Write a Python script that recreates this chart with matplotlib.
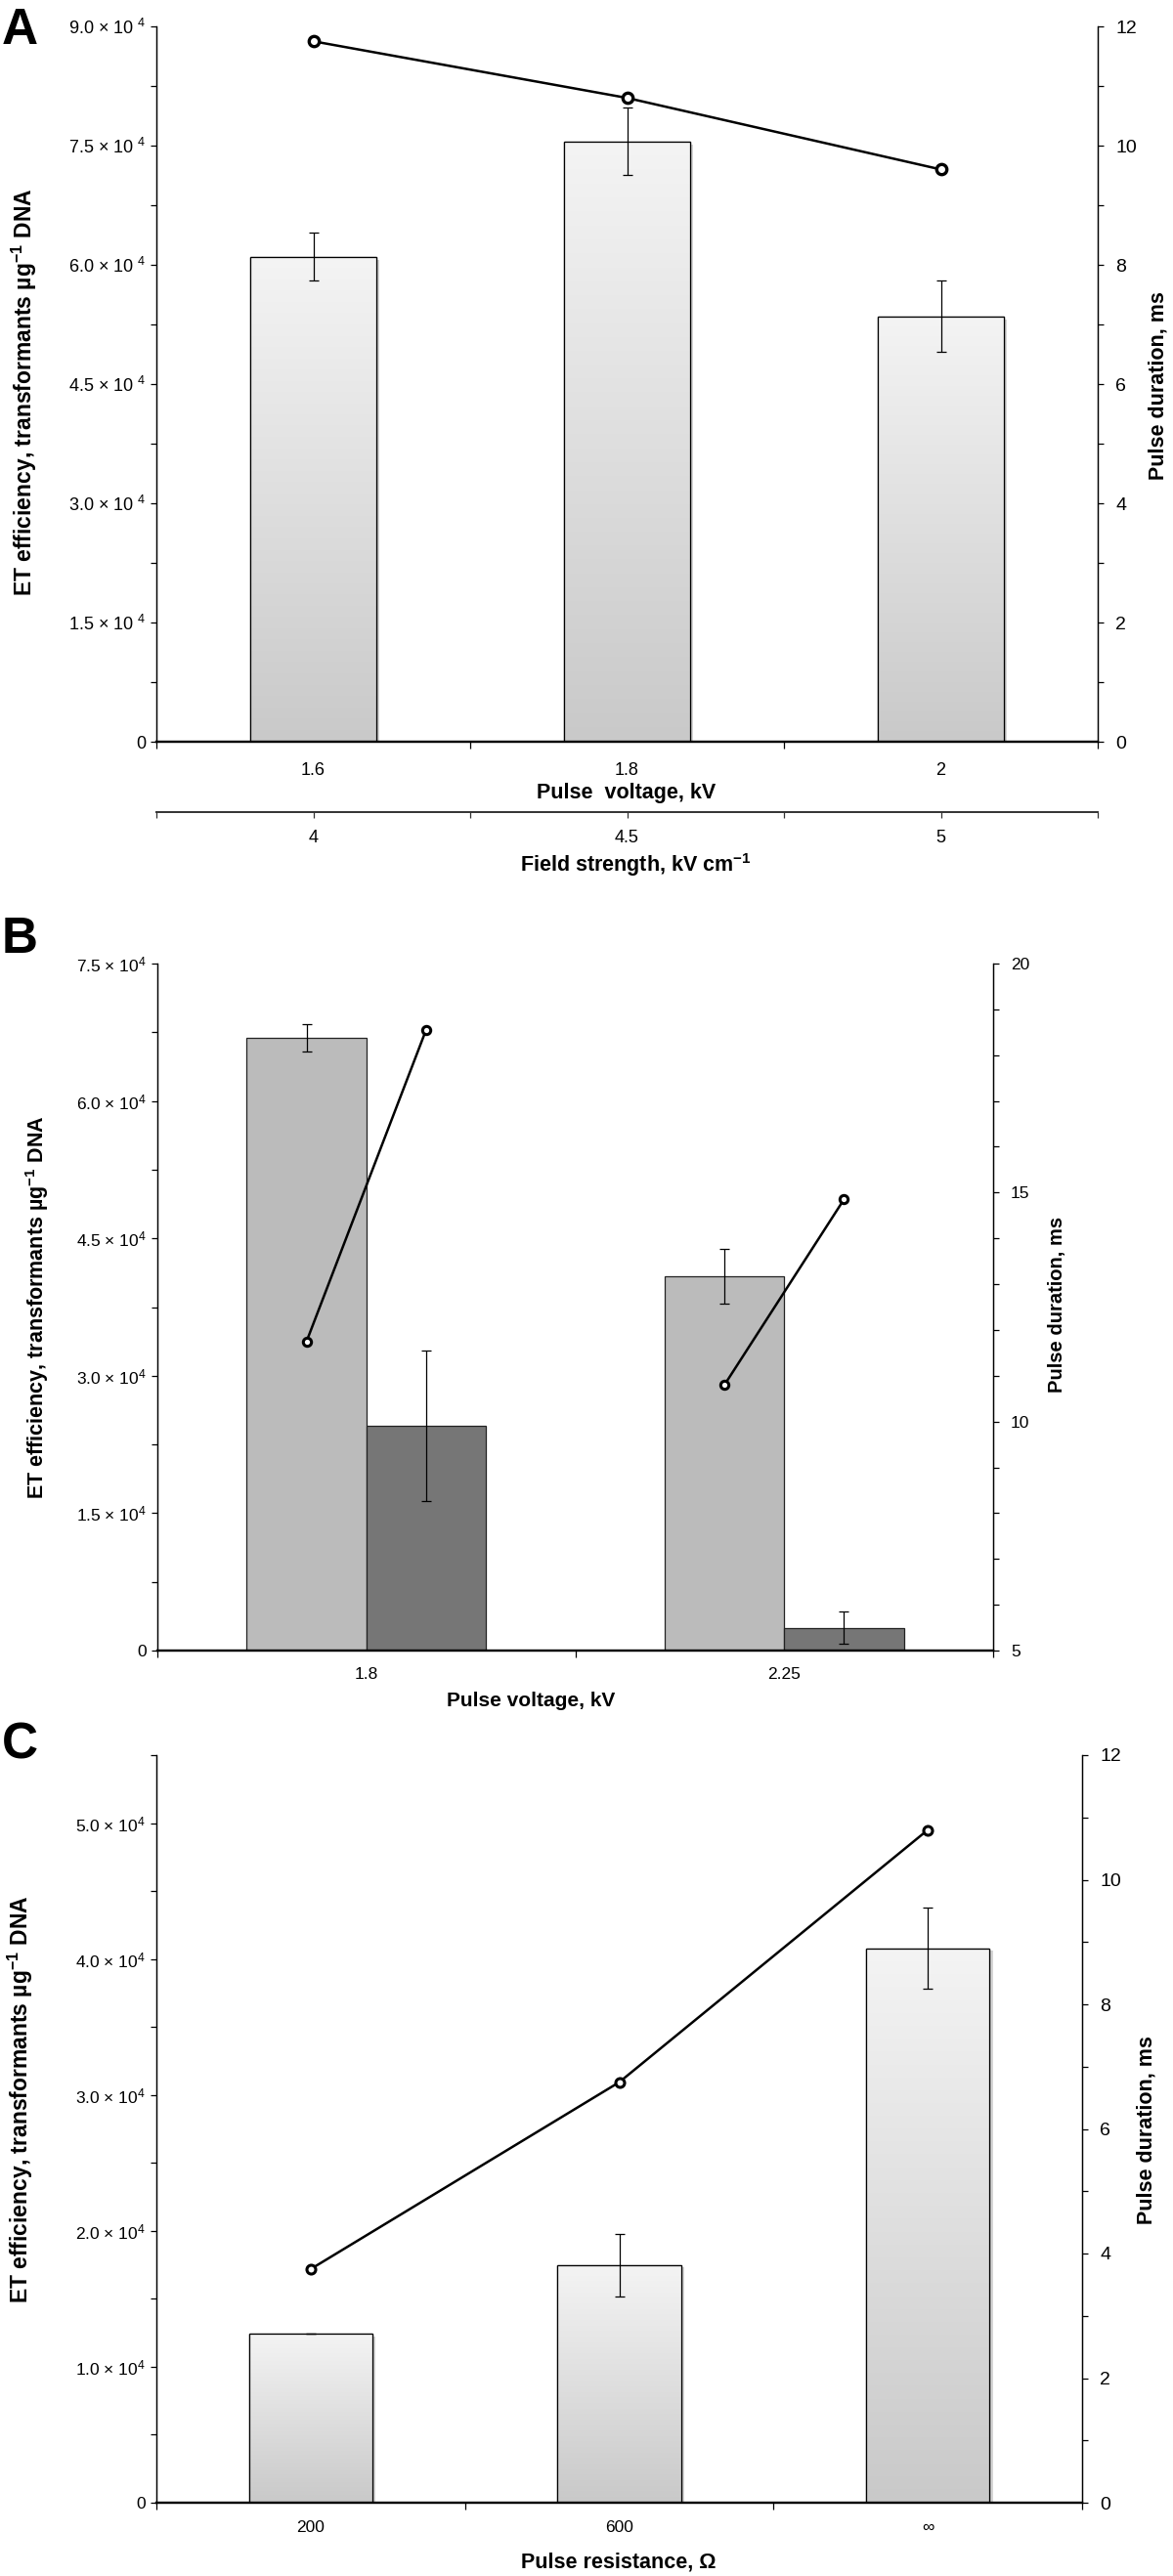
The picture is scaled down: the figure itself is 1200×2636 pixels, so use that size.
import numpy as np
import matplotlib
matplotlib.use("Agg")
import matplotlib.pyplot as plt
import matplotlib.patheffects as pe
from matplotlib.colors import LinearSegmentedColormap
from matplotlib.ticker import MultipleLocator

plt.rcParams['font.family'] = ['Liberation Sans', 'DejaVu Sans']
plt.rcParams['mathtext.default'] = 'regular'

# Panel A: pulse voltage series
a_voltage = ['1.6', '1.8', '2']
a_field = ['4', '4.5', '5']
a_eff = [61000, 75500, 53500]
a_err = [3000, 4250, 4500]
a_dur = [11.75, 10.8, 9.6]

# Panel B: two conditions per voltage
b_voltage = ['1.8', '2.25']
b_eff_1 = [66900, 40900]
b_err_1 = [1450, 3000]
b_eff_2 = [24500, 2500]
b_err_2 = [8200, 1750]
b_dur_1 = [11.75, 10.8]
b_dur_2 = [18.55, 14.85]

# Panel C: pulse resistance series
c_res = ['200', '600', '∞']
c_eff = [12450, 17500, 40800]
c_err = [0, 2300, 2950]
c_dur = [3.75, 6.75, 10.8]

W, H = 1200, 2636
fig = plt.figure(figsize=(W / 100, H / 100), dpi=100)


def px_axes(l, r, t, b):
    return fig.add_axes([l / W, 1 - b / H, (r - l) / W, (b - t) / H])


def ftext(x, y, s, **kw):
    fig.text(x / W, 1 - y / H, s, ha='center', va='center', **kw)


grad_cmap = LinearSegmentedColormap.from_list('g', ['#c9c9c9', '#f4f4f4'])
grad = np.linspace(0, 1, 256).reshape(-1, 1)


def gradient_bars(ax, x, h, width):
    bars = ax.bar(x, h, width, color='#dddddd', edgecolor='black', linewidth=0.9, zorder=2,
                  path_effects=[pe.SimplePatchShadow(offset=(2.5, -2), shadow_rgbFace='#888888', alpha=0.35),
                                pe.Normal()])
    for bar in bars:
        x0, y0 = bar.get_x(), bar.get_y()
        im = ax.imshow(grad, extent=(x0, x0 + bar.get_width(), y0, y0 + bar.get_height()),
                       origin='lower', cmap=grad_cmap, vmin=0, vmax=1, aspect='auto', zorder=2.1)
        im.set_clip_path(bar)
    ax.bar(x, h, width, facecolor='none', edgecolor='black', linewidth=0.9, zorder=2.2)


def setup(ax, ax2, n, ylim, ylim2, yticks, ylabels, yminor, y2major, y2minor, lsize, rsize, xpad):
    ax.set_xlim(-0.5, n - 0.5)
    ax.set_ylim(*ylim)
    ax2.set_ylim(*ylim2)
    for a in (ax, ax2):
        a.spines['top'].set_visible(False)
        a.spines['left'].set_linewidth(0.9)
        a.spines['right'].set_linewidth(0.9)
        a.spines['bottom'].set_linewidth(1.6)
    ax.set_yticks(yticks)
    ax.set_yticklabels(ylabels)
    ax.yaxis.set_minor_locator(MultipleLocator(yminor))
    ax2.yaxis.set_major_locator(MultipleLocator(y2major))
    ax2.yaxis.set_minor_locator(MultipleLocator(y2minor))
    ax.tick_params(axis='y', which='both', direction='out', length=4, width=0.9, labelsize=lsize, pad=4)
    ax2.tick_params(axis='y', which='both', direction='out', length=4, width=0.9, labelsize=rsize, pad=9)
    ax.set_xticks(np.arange(n + 1) - 0.5)
    ax.set_xticklabels([])
    ax.tick_params(axis='x', which='major', direction='out', length=5, width=0.9)
    ax.set_xticks(np.arange(n), minor=True)
    ax.tick_params(axis='x', which='minor', length=0, labelsize=lsize, pad=xpad)


# ---------------- Panel A ----------------
ax = px_axes(160, 1123, 27, 759)
ax2 = ax.twinx()
xa = np.arange(len(a_eff))
gradient_bars(ax, xa, a_eff, 0.4)
ax.errorbar(xa, a_eff, yerr=a_err, fmt='none', ecolor='black', elinewidth=0.9,
            capsize=3.5, capthick=0.9, zorder=3)
ax2.plot(xa, a_dur, color='black', lw=1.8, marker='o', ms=7.5, mfc='white', mec='black', mew=2.4, zorder=4)
a_ticks = np.arange(0, 90001, 15000)
a_lab = ['0'] + ['%.1f × 10 $^{4}$' % (v / 1e4) for v in a_ticks[1:]]
setup(ax, ax2, 3, (0, 90000), (0, 12), a_ticks, a_lab, 7500, 2, 1, 13, 14, 15)
ax.set_xticklabels(a_voltage, minor=True)

sec = ax.secondary_xaxis(-0.098)
sec.set_xticks(np.arange(-0.5, 2.51, 0.5))
sec.set_xticklabels(['', a_field[0], '', a_field[1], '', a_field[2], ''])
sec.spines['bottom'].set_linewidth(1.4)
sec.spines['bottom'].set_color('#333333')
sec.tick_params(direction='out', length=4, width=0.9, labelsize=13, pad=9, color='#333333')

ftext(641, 812, 'Pulse  voltage, kV', fontsize=15.5, fontweight='bold')
ftext(650, 885, 'Field strength, kV cm$^{-1}$', fontsize=15.5, fontweight='bold')
ftext(25, 401, 'ET efficiency, transformants µg$^{-1}$ DNA', fontsize=16.5, fontweight='bold', rotation=90)
ftext(1185, 395, 'Pulse duration, ms', fontsize=15.5, fontweight='bold', rotation=90)
fig.text(2 / W, 1 - 45 / H, 'A', fontsize=37, fontweight='bold', ha='left', va='baseline')

# ---------------- Panel B ----------------
ax = px_axes(161, 1016, 986, 1689)
ax2 = ax.twinx()
xb = np.arange(len(b_eff_1))
bw = 0.286
ax.bar(xb - bw / 2, b_eff_1, bw, color='#bbbbbb', edgecolor='#222222', linewidth=0.9, zorder=2)
ax.bar(xb + bw / 2, b_eff_2, bw, color='#767676', edgecolor='#222222', linewidth=0.9, zorder=2)
ax.errorbar(xb - bw / 2, b_eff_1, yerr=b_err_1, fmt='none', ecolor='black', elinewidth=0.9,
            capsize=3.5, capthick=0.9, zorder=3)
ax.errorbar(xb + bw / 2, b_eff_2, yerr=b_err_2, fmt='none', ecolor='black', elinewidth=0.9,
            capsize=3.5, capthick=0.9, zorder=3)
for i in range(len(xb)):
    ax2.plot([xb[i] - bw / 2, xb[i] + bw / 2], [b_dur_1[i], b_dur_2[i]], color='black', lw=1.8,
             marker='o', ms=6, mfc='white', mec='black', mew=2.2, zorder=4)
b_ticks = np.arange(0, 75001, 15000)
b_lab = ['0'] + ['%.1f × 10$^{4}$' % (v / 1e4) for v in b_ticks[1:]]
setup(ax, ax2, 2, (0, 75000), (5, 20), b_ticks, b_lab, 7500, 5, 1, 12.5, 12.5, 12)
ax.set_xticklabels(b_voltage, minor=True)

ftext(543, 1740, 'Pulse voltage, kV', fontsize=15, fontweight='bold')
ftext(38, 1338, 'ET efficiency, transformants µg$^{-1}$ DNA', fontsize=15.5, fontweight='bold', rotation=90)
ftext(1082, 1335, 'Pulse duration, ms', fontsize=14.5, fontweight='bold', rotation=90)
fig.text(2 / W, 1 - 975 / H, 'B', fontsize=37, fontweight='bold', ha='left', va='baseline')

# ---------------- Panel C ----------------
ax = px_axes(160, 1107, 1796, 2561)
ax2 = ax.twinx()
xc = np.arange(len(c_eff))
gradient_bars(ax, xc, c_eff, 0.4)
ax.errorbar(xc, c_eff, yerr=c_err, fmt='none', ecolor='black', elinewidth=0.9,
            capsize=3.5, capthick=0.9, zorder=3)
ax2.plot(xc, c_dur, color='black', lw=1.8, marker='o', ms=6.5, mfc='white', mec='black', mew=2.2, zorder=4)
c_ticks = np.arange(0, 50001, 10000)
c_lab = ['0'] + ['%.1f × 10$^{4}$' % (v / 1e4) for v in c_ticks[1:]]
setup(ax, ax2, 3, (0, 55000), (0, 12), c_ticks, c_lab, 5000, 2, 1, 12.5, 14, 13)
ax.set_xticklabels(c_res, minor=True)

ftext(633, 2622, 'Pulse resistance, Ω', fontsize=15.5, fontweight='bold')
ftext(21, 2148, 'ET efficiency, transformants µg$^{-1}$ DNA', fontsize=16.5, fontweight='bold', rotation=90)
ftext(1173, 2180, 'Pulse duration, ms', fontsize=15.5, fontweight='bold', rotation=90)
fig.text(2 / W, 1 - 1799 / H, 'C', fontsize=37, fontweight='bold', ha='left', va='baseline')

fig.savefig('out.png', dpi=100)
